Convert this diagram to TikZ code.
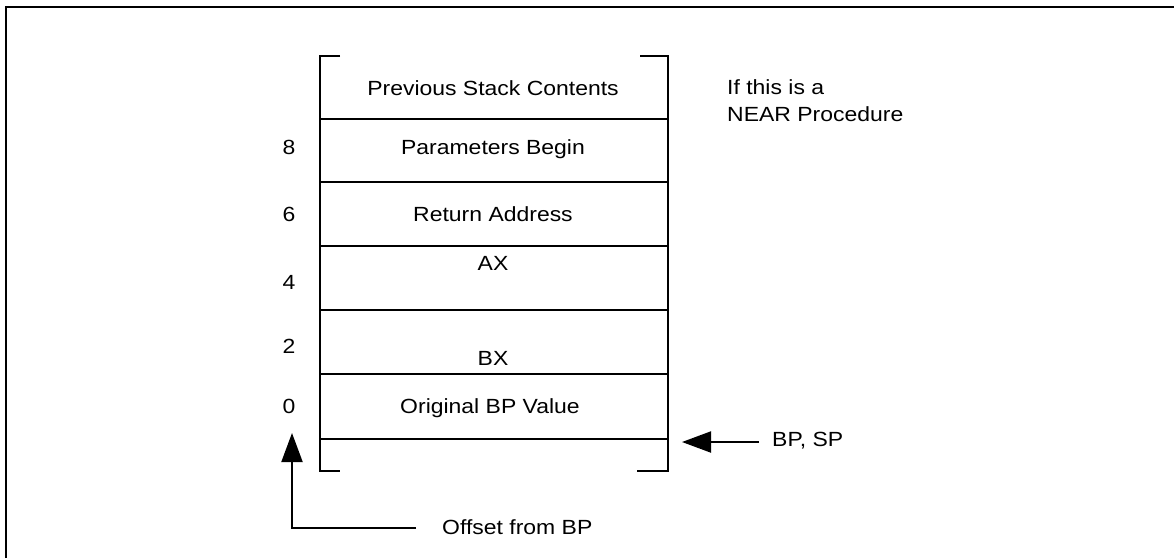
\documentclass[tikz,border=0pt]{standalone}
\usepackage{fontspec}
\setmainfont[FakeStretch=1.12]{Liberation Sans}
\usetikzlibrary{arrows.meta}
\begin{document}
\begin{tikzpicture}[x=1pt,y=-1pt,
  lbl/.style={inner sep=0pt, anchor=base, font=\fontsize{20.5}{27.4}\selectfont},
  frame/.style={line width=2pt},
  arr/.style={line width=2pt, -{Triangle[length=29pt,width=21pt]}}]
\useasboundingbox (0,0) rectangle (1174,558);
% outer border (top and left edges)
\draw[line width=1.8pt] (6,558) -- (6,7) -- (1174,7);
% stack frame
\draw[frame] (340,56) -- (320,56) -- (320,471) -- (340,471);
\draw[frame] (640,56) -- (668,56) -- (668,471) -- (637,471);
\foreach \yy in {119,182,246,310,374,438.7}
  \draw[frame] (320,\yy) -- (668,\yy);
% cell texts
\node[lbl] (prev)  at (493,95.7)  {Previous Stack Contents};
\node[lbl] (param) at (493,154)   {Parameters Begin};
\node[lbl] (ret)   at (493,221)   {Return Address};
\node[lbl] (ax)    at (493,270)   {AX};
\node[lbl] (bx)    at (493,365)   {BX};
\node[lbl] (orig)  at (490,413.3) {Original BP Value};
% offsets
\node[lbl] (n8) at (289,154) {8};
\node[lbl] (n6) at (289,221) {6};
\node[lbl] (n4) at (289,289) {4};
\node[lbl] (n2) at (289,353) {2};
\node[lbl] (n0) at (289,413) {0};
% side notes
\node[lbl, anchor=base west, align=left] (near) at (727,121.7) {If this is a\\NEAR Procedure};
\node[lbl, anchor=base west] (bpsp) at (772,446.7) {BP, SP};
\node[lbl, anchor=base west] (off)  at (442,534.3) {Offset from BP};
% arrows
\coordinate (bptip) at (682,442);
\coordinate (offcorner) at (292,528);
\coordinate (offtip) at (292,433);
\draw[arr] (bptip -| bpsp.west) ++(-13,0) -- (bptip);
\draw[arr] (offcorner -| off.west) ++(-26,0) -- (offcorner) -- (offtip);
\end{tikzpicture}
\end{document}
